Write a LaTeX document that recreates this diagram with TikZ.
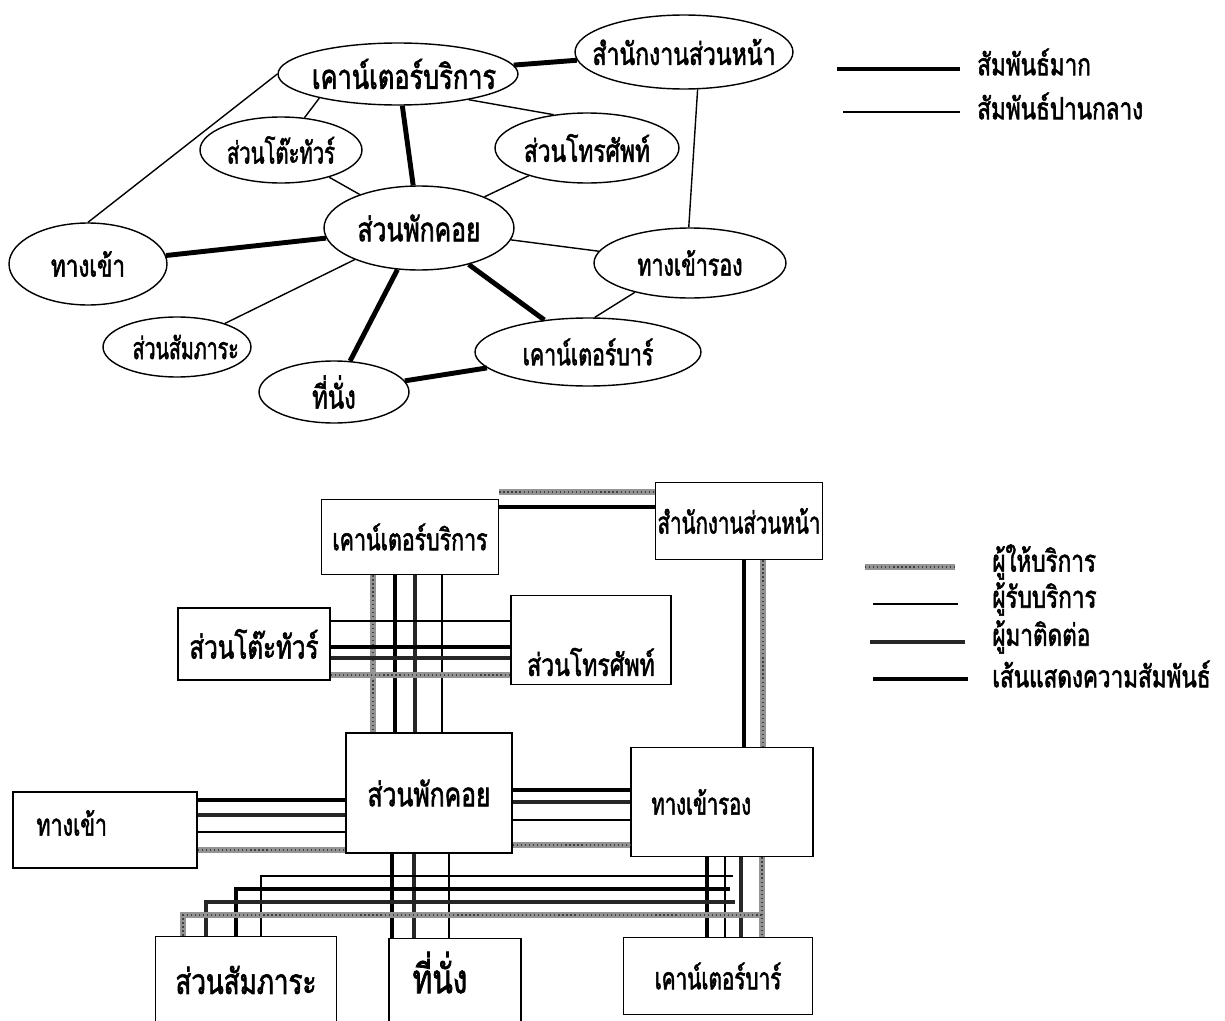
\documentclass[tikz,border=0pt]{standalone}
\usepackage{fontspec}
\newfontfamily\thaifont[Script=Thai,FakeStretch=0.74,FakeBold=1.8]{Loma}
\usetikzlibrary{positioning,shapes.geometric}

\begin{document}
\begin{tikzpicture}[x=0.02cm,y=-0.02cm,
    oval/.style={draw,ellipse,line width=0.8pt,inner sep=0pt},
    box/.style={draw,line width=0.9pt,inner sep=0pt},
    txt/.style={font=\thaifont\fontsize{#1}{24}\selectfont,inner sep=0pt},
    txt/.default=17.3,
    narrow/.style={xscale=#1,transform shape},
    strong/.style={line width=2.8pt},
    weak/.style={line width=0.8pt},
    provider/.style={draw=black!42,line width=3.2pt,
      postaction={draw=black!75,line width=0.7pt,dash pattern=on 0.7pt off 1.6pt}},
    receiver/.style={line width=1.1pt},
    visitor/.style={draw=black!85,line width=2.2pt},
    relation/.style={line width=2.8pt}
  ]
    \useasboundingbox (0,0) rectangle (1225,1021);

    % bubble diagram
    \node[oval,minimum width=4.8cm,minimum height=1.24cm,label={[txt=19.5,xshift=0.12cm]center:เคาน์เตอร์บริการ}] (svc) at (398,74) {};
    \node[oval,minimum width=4.36cm,minimum height=1.48cm,label={[txt=17.7]center:สำนักงานส่วนหน้า}] (front) at (684,52) {};
    \node[oval,minimum width=3.24cm,minimum height=1.32cm,label={[txt,narrow=0.9]center:ส่วนโต๊ะทัวร์}] (tour) at (281,150) {};
    \node[oval,minimum width=3.68cm,minimum height=1.4cm,label={[txt=17.5]center:ส่วนโทรศัพท์}] (phone) at (587,148) {};
    \node[oval,minimum width=3.8cm,minimum height=1.68cm,label={[txt=19]center:ส่วนพักคอย}] (lounge) at (419,228) {};
    \node[oval,minimum width=3.16cm,minimum height=1.64cm,label={[txt]center:ทางเข้า}] (entr) at (88,264) {};
    \node[oval,minimum width=3.84cm,minimum height=1.4cm,label={[txt,narrow=0.95]center:ทางเข้ารอง}] (side) at (690,263) {};
    \node[oval,minimum width=2.96cm,minimum height=1.2cm,label={[txt,narrow=0.87,xshift=0.2cm]center:ส่วนสัมภาระ}] (lugg) at (177,347) {};
    \node[oval,minimum width=3.0cm,minimum height=1.24cm,label={[txt=18.4]center:ที่นั่ง}] (seat) at (334,392) {};
    \node[oval,minimum width=4.52cm,minimum height=1.36cm,label={[txt,narrow=0.95]center:เคาน์เตอร์บาร์}] (bar) at (588,352) {};

    \foreach \a/\b in {svc/front,svc/lounge,entr/lounge,lounge/seat,lounge/bar,seat/bar}
      \draw[strong] (\a) -- (\b);
    \foreach \a/\b in {svc.west/entr.north,svc.197/tour.54,svc.340/phone.135,front.290/side.92,
                       tour/lounge,phone/lounge,lounge/side,lounge/lugg,side.208/bar.79}
      \draw[weak] (\a) -- (\b);

    \draw[strong] (837,69) -- (960,69);
    \node[txt,anchor=west] (legA) at (977,62) {สัมพันธ์มาก};
    \draw[weak] (843,112) -- (960,112);
    \node[txt,anchor=west] (legB) at (977,106) {สัมพันธ์ปานกลาง};

    % block diagram
    \node[box,minimum width=3.54cm,minimum height=1.5cm,label={[txt,narrow=0.95]center:เคาน์เตอร์บริการ}] (svcB) at (410,537) {};
    \node[box,minimum width=3.34cm,minimum height=1.54cm,label={[txt,narrow=0.91]center:สำนักงานส่วนหน้า}] (frontB) at (739,521) {};
    \node[box,minimum width=3.04cm,minimum height=1.44cm,label={[txt=18.6]center:ส่วนโต๊ะทัวร์}] (tourB) at (254,644) {};
    \node[box,minimum width=3.2cm,minimum height=1.78cm,label={[txt=17.7,yshift=-0.44cm]center:ส่วนโทรศัพท์}] (phoneB) at (591,640) {};
    \node[box,minimum width=3.32cm,minimum height=2.4cm,label={[txt=19]center:ส่วนพักคอย}] (loungeB) at (429,793) {};
    \node[box,minimum width=3.68cm,minimum height=1.52cm,label={[txt,narrow=0.95,xshift=-0.7cm,yshift=0.14cm]center:ทางเข้า}] (entranceB) at (105,830) {};
    \node[box,minimum width=3.64cm,minimum height=2.18cm,label={[txt,narrow=0.9,xshift=-0.46cm]center:ทางเข้ารอง}] (sideB) at (722,802) {};
    \node[box,minimum width=3.62cm,minimum height=1.86cm,label={[txt=20,yshift=0.06cm]center:ส่วนสัมภาระ}] (luggB) at (246,983) {};
    \node[box,minimum width=2.64cm,minimum height=1.82cm,label={[txt=23,xshift=-0.3cm,yshift=0.23cm]center:ที่นั่ง}] (seatB) at (455,984) {};
    \node[box,minimum width=3.78cm,minimum height=1.54cm,label={[txt,narrow=0.92]center:เคาน์เตอร์บาร์}] (barB) at (718,976) {};

    \foreach \st/\y in {provider/492,relation/507}
      \draw[\st] (svcB.east |- 0,\y) -- (frontB.west |- 0,\y);
    \foreach \st/\x in {provider/373,relation/395,visitor/415,receiver/442}
      \draw[\st] (svcB.south -| \x,0) -- (loungeB.north -| \x,0);
    \foreach \st/\y in {receiver/621,relation/647,visitor/658,provider/675}
      \draw[\st] (tourB.east |- 0,\y) -- (phoneB.west |- 0,\y);
    \foreach \st/\x in {relation/744,provider/763}
      \draw[\st] (frontB.south -| \x,0) -- (sideB.north -| \x,0);
    \foreach \st/\y in {relation/800,visitor/815,receiver/832,provider/850}
      \draw[\st] (entranceB.east |- 0,\y) -- (loungeB.west |- 0,\y);
    \foreach \st/\y in {relation/790,visitor/802,receiver/820,provider/845}
      \draw[\st] (loungeB.east |- 0,\y) -- (sideB.west |- 0,\y);
    \foreach \st/\x in {relation/392,visitor/414,receiver/449}
      \draw[\st] (loungeB.south -| \x,0) -- (seatB.north -| \x,0);
    \foreach \st/\x in {relation/707,receiver/725,visitor/741,provider/762}
      \draw[\st] (sideB.south -| \x,0) -- (barB.north -| \x,0);
    \foreach \st/\xl/\y/\xr in {receiver/261/876/733,relation/236/889/730,visitor/206/902/735,provider/183/915/762}{
      \coordinate (run\y) at (\xr,\y);
      \draw[\st] (luggB.north -| \xl,0) |- (run\y);
    }

    \foreach \st/\xa/\xb/\y/\t in {provider/865/955/567/ผู้ให้บริการ,receiver/873/958/604/ผู้รับบริการ,
                                   visitor/870/965/642/ผู้มาติดต่อ,relation/873/968/679/เส้นแสดงความสัมพันธ์}{
      \draw[\st] (\xa,\y) -- (\xb,\y);
      \node[txt,anchor=west] (key\y) at (992,\y-5) {\t};
    }
\end{tikzpicture}
\end{document}
